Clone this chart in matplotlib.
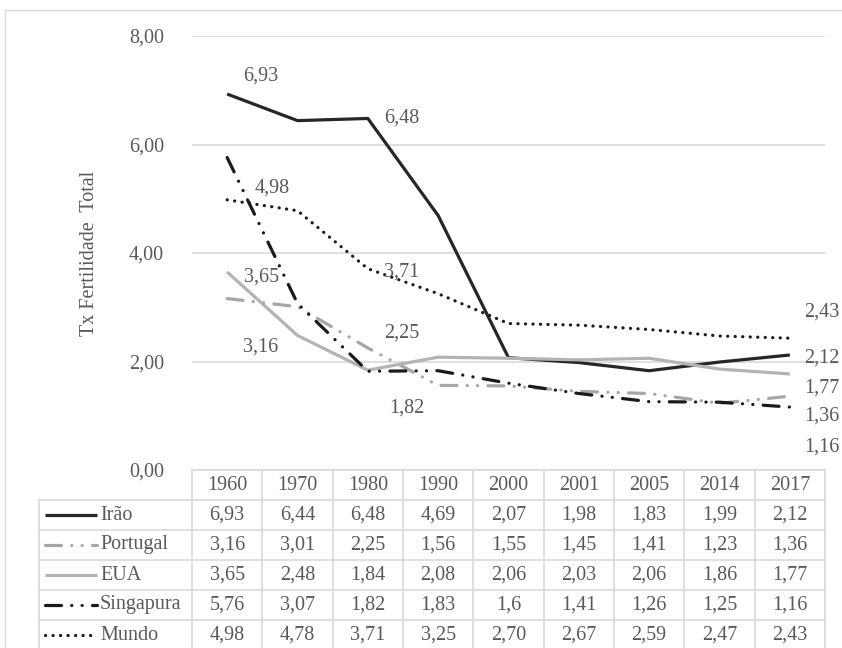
import matplotlib
matplotlib.use("Agg")
import matplotlib.pyplot as plt
from matplotlib.transforms import blended_transform_factory
from matplotlib.patches import Rectangle
from matplotlib.lines import Line2D

# Dados
anos = ['1960', '1970', '1980', '1990', '2000', '2001', '2005', '2014', '2017']
irao = [6.93, 6.44, 6.48, 4.69, 2.07, 1.98, 1.83, 1.99, 2.12]
portugal = [3.16, 3.01, 2.25, 1.56, 1.55, 1.45, 1.41, 1.23, 1.36]
eua = [3.65, 2.48, 1.84, 2.08, 2.06, 2.03, 2.06, 1.86, 1.77]
singapura = [5.76, 3.07, 1.82, 1.83, 1.6, 1.41, 1.26, 1.25, 1.16]
mundo = [4.98, 4.78, 3.71, 3.25, 2.70, 2.67, 2.59, 2.47, 2.43]

tabela_irao = ['6,93', '6,44', '6,48', '4,69', '2,07', '1,98', '1,83', '1,99', '2,12']
tabela_portugal = ['3,16', '3,01', '2,25', '1,56', '1,55', '1,45', '1,41', '1,23', '1,36']
tabela_eua = ['3,65', '2,48', '1,84', '2,08', '2,06', '2,03', '2,06', '1,86', '1,77']
tabela_singapura = ['5,76', '3,07', '1,82', '1,83', '1,6', '1,41', '1,26', '1,25', '1,16']
tabela_mundo = ['4,98', '4,78', '3,71', '3,25', '2,70', '2,67', '2,59', '2,47', '2,43']

plt.rcParams['font.family'] = ['Liberation Serif', 'DejaVu Serif']
cinza_txt = '#595959'
cinza_grid = '#D9D9D9'
lw = 2.3
fs = 14.5

estilo_tdd = (0, (5, 3.2, 0.05, 3.2, 0.05, 3.2))
estilo_pont = (0, (0.05, 2.3))

series = [
    ('Irão', irao, tabela_irao, dict(color='#262626', linestyle='-', solid_capstyle='butt')),
    ('Portugal', portugal, tabela_portugal, dict(color='#A6A6A6', linestyle=estilo_tdd, dash_capstyle='round')),
    ('EUA', eua, tabela_eua, dict(color='#B3B3B3', linestyle='-', solid_capstyle='butt')),
    ('Singapura', singapura, tabela_singapura, dict(color='#1A1A1A', linestyle=estilo_tdd, dash_capstyle='round')),
    ('Mundo', mundo, tabela_mundo, dict(color='#1A1A1A', linestyle=estilo_pont, dash_capstyle='round')),
]

W, H = 842, 648
fig = plt.figure(figsize=(W / 100, H / 100), dpi=100)

# moldura
fig.patches.append(Rectangle((5 / W, -0.1), 1.2, (H - 10) / H + 0.1, transform=fig.transFigure,
                             fill=False, edgecolor=cinza_grid, linewidth=1))

ax_l, ax_r, ax_t, ax_b = 192, 825, 36, 470
ax = fig.add_axes([ax_l / W, (H - ax_b) / H, (ax_r - ax_l) / W, (ax_b - ax_t) / H])
x = list(range(len(anos)))
ax.set_xlim(-0.5, len(anos) - 0.5)
ax.set_ylim(0, 8)
ax.set_yticks([0, 2, 4, 6, 8])
ax.set_yticklabels(['0,00', '2,00', '4,00', '6,00', '8,00'])
ax.tick_params(axis='y', length=0, pad=20, labelsize=fs, labelcolor=cinza_txt)
ax.set_xticks([])
for s in ax.spines.values():
    s.set_visible(False)
ax.grid(axis='y', color=cinza_grid, linewidth=1.2)
ax.set_axisbelow(True)
ax.set_ylabel('Tx Fertilidade  Total', fontsize=fs, color=cinza_txt, labelpad=22)

for nome, vals, _, kw in series:
    ax.plot(x, vals, linewidth=lw, **kw)

# rótulos de dados
rotulos = [
    (irao, 0, '6,93', 34, 18),
    (irao, 2, '6,48', 34, 0),
    (mundo, 0, '4,98', 45, 12),
    (mundo, 2, '3,71', 34, -3),
    (eua, 0, '3,65', 34, -5),
    (portugal, 0, '3,16', 33, -48),
    (portugal, 2, '2,25', 34, 15),
    (singapura, 2, '1,82', 39, -37),
    (mundo, 8, '2,43', 32, 26),
    (irao, 8, '2,12', 32, -3),
    (eua, 8, '1,77', 32, -14),
    (portugal, 8, '1,36', 32, -20),
    (singapura, 8, '1,16', 32, -40),
]
for vals, i, txt, dx, dy in rotulos:
    ax.annotate(txt, (x[i], vals[i]), xytext=(dx, dy), textcoords='offset pixels',
                ha='center', va='center', fontsize=fs, color=cinza_txt, annotation_clip=False)

# tabela de dados
tr = blended_transform_factory(ax.transData, ax.transAxes)
alt = ax_b - ax_t
row_h = 30 / alt
leg_x = (39 - ax_l) / (ax_r - ax_l)
n = len(series)
bottom = -(n + 1) * row_h - 0.05

# linhas horizontais
ax.plot([0, 1], [0, 0], transform=ax.transAxes, color=cinza_grid, lw=1.2, clip_on=False)
for r in range(1, n + 1):
    ax.plot([leg_x, 1], [-r * row_h] * 2, transform=ax.transAxes, color=cinza_grid, lw=1.2, clip_on=False)
# linhas verticais
for b in range(len(anos) + 1):
    ax.plot([b - 0.5, b - 0.5], [0, bottom], transform=tr, color=cinza_grid, lw=1.2, clip_on=False)
ax.plot([leg_x, leg_x], [-row_h, bottom], transform=ax.transAxes, color=cinza_grid, lw=1.2, clip_on=False)

for i, ano in enumerate(anos):
    ax.text(x[i], -0.5 * row_h, ano, transform=tr, ha='center', va='center',
            fontsize=fs, color=cinza_txt)

px = 1 / (ax_r - ax_l)
for r, (nome, vals, txts, kw) in enumerate(series):
    yc = -(r + 1.5) * row_h
    for i, t in enumerate(txts):
        ax.text(x[i], yc, t, transform=tr, ha='center', va='center', fontsize=fs, color=cinza_txt)
    ax.add_line(Line2D([(45 - ax_l) * px, (97 - ax_l) * px], [yc, yc], transform=ax.transAxes,
                       linewidth=lw, clip_on=False, **kw))
    ax.text((100 - ax_l) * px, yc, nome, transform=ax.transAxes, ha='left', va='center',
            fontsize=fs, color=cinza_txt)

fig.savefig('out.png', dpi=100)
